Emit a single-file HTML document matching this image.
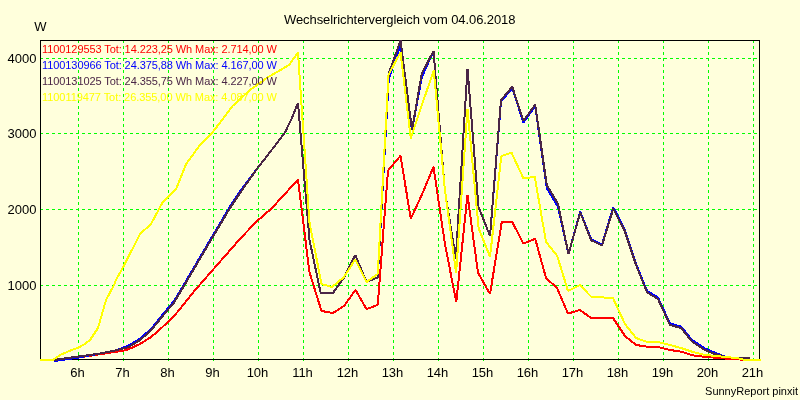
<!DOCTYPE html>
<html><head><meta charset="utf-8"><title>Wechselrichtervergleich</title>
<style>
html,body{margin:0;padding:0;background:#FFFFDC;}
svg{display:block}
text{font-family:"Liberation Sans",sans-serif;}
</style></head><body>
<svg width="800" height="400" viewBox="0 0 800 400">
<rect x="0" y="0" width="800" height="400" fill="#FFFFDC"/>
<g shape-rendering="crispEdges" fill="none">
<g stroke="#00FF00" stroke-width="1" stroke-dasharray="3 3"><line x1="78.5" y1="40" x2="78.5" y2="361"/><line x1="123.5" y1="40" x2="123.5" y2="361"/><line x1="168.5" y1="40" x2="168.5" y2="361"/><line x1="213.5" y1="40" x2="213.5" y2="361"/><line x1="258.5" y1="40" x2="258.5" y2="361"/><line x1="303.5" y1="40" x2="303.5" y2="361"/><line x1="348.5" y1="40" x2="348.5" y2="361"/><line x1="393.5" y1="40" x2="393.5" y2="361"/><line x1="438.5" y1="40" x2="438.5" y2="361"/><line x1="483.5" y1="40" x2="483.5" y2="361"/><line x1="528.5" y1="40" x2="528.5" y2="361"/><line x1="573.5" y1="40" x2="573.5" y2="361"/><line x1="618.5" y1="40" x2="618.5" y2="361"/><line x1="663.5" y1="40" x2="663.5" y2="361"/><line x1="708.5" y1="40" x2="708.5" y2="361"/><line x1="753.5" y1="40" x2="753.5" y2="361"/><line x1="40" y1="285.5" x2="760" y2="285.5"/><line x1="40" y1="209.5" x2="760" y2="209.5"/><line x1="40" y1="133.5" x2="760" y2="133.5"/><line x1="40" y1="58.5" x2="760" y2="58.5"/></g>
<rect x="40.5" y="40.5" width="719" height="319" stroke="#000" stroke-width="1"/>
<g stroke-width="2" stroke-linejoin="bevel">
<polyline stroke="#FF0000" points="55.00,360.00 78.60,357.50 123.60,350.60 128.65,349.20 139.90,344.00 151.20,337.00 162.50,327.00 173.80,316.50 185.10,302.50 196.40,288.50 204.00,280.00 239.00,240.00 256.00,222.00 272.00,208.00 298.00,179.60 309.40,272.00 321.50,311.00 333.00,313.00 344.00,306.00 355.50,290.00 366.50,309.00 377.75,305.00 388.00,170.50 400.50,155.80 410.80,218.70 422.20,194.00 433.50,166.75 444.80,243.00 456.25,302.25 467.50,195.00 478.00,272.75 490.00,294.00 501.75,222.00 512.25,222.00 523.50,243.70 535.20,238.75 546.00,278.00 557.00,288.00 568.00,313.60 580.00,310.00 591.00,318.00 602.00,318.00 613.00,318.00 625.00,336.00 636.00,345.00 647.00,346.60 658.00,347.00 670.00,350.00 681.00,351.60 692.00,355.20 704.00,356.80 726.00,358.60 742.00,359.60 746.00,360.20"/>
<polyline stroke="#0000FF" points="54.00,361.00 78.60,357.50 100.00,353.50 117.40,350.00 128.65,345.50 139.90,338.70 151.20,328.70 162.50,314.80 173.80,301.30 185.10,282.50 211.00,238.50 230.00,206.50 240.00,191.50 259.00,166.00 264.00,160.00 285.00,132.50 291.00,120.00 298.00,103.00 309.50,240.00 320.75,293.25 332.75,293.25 344.00,277.50 355.25,255.00 366.50,282.00 377.75,277.50 388.75,78.50 400.50,45.50 412.00,130.00 421.75,77.50 433.50,51.00 444.80,190.00 455.80,258.50 467.50,68.70 478.50,207.00 490.00,236.00 501.00,101.50 512.25,88.30 523.50,122.50 535.20,106.00 546.75,188.00 558.00,206.75 568.50,254.00 580.25,211.50 591.20,239.25 602.00,244.50 613.25,207.25 624.50,229.00 636.00,263.50 647.00,290.90 658.00,297.50 670.00,323.50 681.00,326.50 692.00,340.00 704.00,348.00 714.00,352.30 726.00,357.00 738.00,358.30 750.00,358.30"/>
<polyline stroke="#4A2646" points="54.00,360.00 78.60,356.50 100.00,353.50 117.40,350.00 128.65,347.00 139.90,340.20 151.20,330.20 162.50,316.30 173.80,302.80 185.10,284.00 211.00,240.00 230.00,208.00 240.00,193.00 259.00,166.00 264.00,160.00 285.00,132.50 291.00,120.00 298.00,103.00 309.50,240.00 320.75,293.25 332.75,293.25 344.00,277.50 355.25,255.00 366.50,282.00 377.75,277.50 388.75,73.50 400.50,40.50 412.00,130.00 421.75,73.50 433.50,51.00 444.80,190.00 455.80,258.50 467.50,68.70 478.50,207.00 490.00,236.00 501.00,100.00 512.25,86.80 523.50,121.00 535.20,104.50 546.75,185.00 558.00,203.75 568.50,254.00 580.25,212.50 591.20,240.25 602.00,245.50 613.25,208.75 624.50,230.50 636.00,265.00 647.00,292.40 658.00,299.00 670.00,325.00 681.00,328.00 692.00,341.50 704.00,349.50 714.00,353.80 726.00,357.00 738.00,358.30 750.00,358.30"/>
<polyline stroke="#FFFF00" points="40.00,360.00 53.00,360.00 60.00,355.00 70.50,350.50 78.60,347.50 84.00,344.50 90.00,340.00 98.00,328.00 106.00,300.00 114.00,285.00 116.00,280.00 123.75,266.00 140.00,234.00 151.00,224.00 162.50,202.50 176.25,188.75 186.25,163.75 200.00,145.00 212.50,132.50 232.50,106.00 250.00,90.00 267.50,77.50 289.00,65.00 298.00,52.50 309.40,222.00 321.50,284.00 332.00,287.00 344.00,277.00 355.25,259.50 366.50,282.00 377.75,274.00 388.50,75.00 400.50,52.00 410.80,138.50 422.20,104.00 433.75,70.50 444.80,189.00 456.10,272.75 467.50,109.00 478.60,228.00 490.00,257.00 501.30,156.00 511.50,152.70 523.50,178.50 534.75,176.70 546.00,241.75 557.25,256.00 568.00,291.00 580.00,285.00 591.00,296.60 602.00,297.40 613.00,298.00 625.00,324.00 636.00,338.00 646.00,341.60 658.00,342.00 670.00,345.00 681.00,348.00 692.00,351.70 704.00,354.70 715.00,356.00 726.00,357.00 738.00,358.30 745.00,360.00 761.00,360.00"/>
</g></g>
<g font-size="13" fill="#000">
<text x="284" y="24.2" textLength="231.5" lengthAdjust="spacing">Wechselrichtervergleich vom 04.06.2018</text>
<text x="34.3" y="31">W</text>
<text x="36.5" y="290.2" text-anchor="end">1000</text>
<text x="36.5" y="214.2" text-anchor="end">2000</text>
<text x="36.5" y="138.2" text-anchor="end">3000</text>
<text x="36.5" y="63.2" text-anchor="end">4000</text>
<text x="77.5" y="377" text-anchor="middle">6h</text>
<text x="122.5" y="377" text-anchor="middle">7h</text>
<text x="167.5" y="377" text-anchor="middle">8h</text>
<text x="212.5" y="377" text-anchor="middle">9h</text>
<text x="257.5" y="377" text-anchor="middle">10h</text>
<text x="302.5" y="377" text-anchor="middle">11h</text>
<text x="347.5" y="377" text-anchor="middle">12h</text>
<text x="392.5" y="377" text-anchor="middle">13h</text>
<text x="437.5" y="377" text-anchor="middle">14h</text>
<text x="482.5" y="377" text-anchor="middle">15h</text>
<text x="527.5" y="377" text-anchor="middle">16h</text>
<text x="572.5" y="377" text-anchor="middle">17h</text>
<text x="617.5" y="377" text-anchor="middle">18h</text>
<text x="662.5" y="377" text-anchor="middle">19h</text>
<text x="707.5" y="377" text-anchor="middle">20h</text>
<text x="752.5" y="377" text-anchor="middle">21h</text>
</g>
<g font-size="11">
<text x="42" y="53" fill="#FF0000" textLength="235" lengthAdjust="spacing">1100129553 Tot: 14.223,25 Wh Max: 2.714,00 W</text>
<text x="42" y="69" fill="#0000FF" textLength="235" lengthAdjust="spacing">1100130966 Tot: 24.375,88 Wh Max: 4.167,00 W</text>
<text x="42" y="85" fill="#4A2646" textLength="235" lengthAdjust="spacing">1100131025 Tot: 24.355,75 Wh Max: 4.227,00 W</text>
<text x="42" y="101" fill="#FFFF00" textLength="235" lengthAdjust="spacing">1100119477 Tot: 26.355,00 Wh Max: 4.087,00 W</text>
<text x="798" y="395" text-anchor="end" fill="#000">SunnyReport pinxit</text>
</g>
</svg>
</body></html>
